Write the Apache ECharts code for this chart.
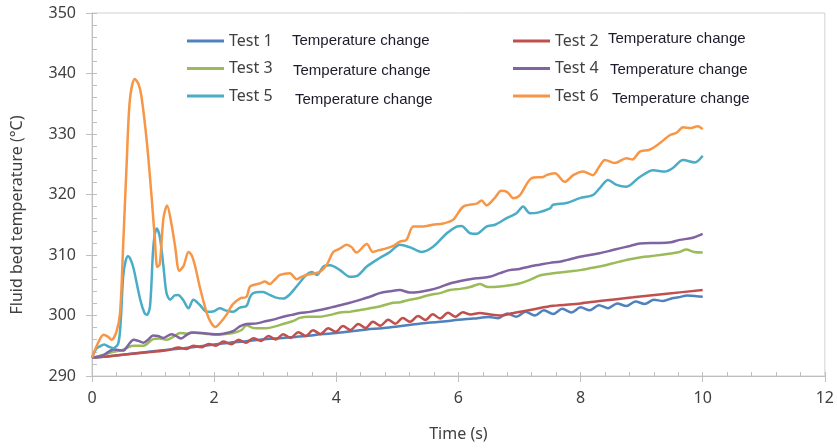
<!DOCTYPE html>
<html><head><meta charset="utf-8">
<script src="https://cdn.jsdelivr.net/npm/echarts@6/dist/echarts.min.js"></script>
<style>html,body{margin:0;padding:0;background:#fff}#c{width:837px;height:448px}</style>
</head><body><div id="c"></div>
<script>
const seriesNames = ['Test 1','Test 2','Test 3','Test 4','Test 5','Test 6'];
const seriesColors = ['#4F81BD','#C0504D','#9BBB59','#8064A2','#4BACC6','#F79646'];
const noteText = 'Temperature change';
const xTicks = [0,2,4,6,8,10,12];
const yTicks = [290,300,310,320,330,340,350];
const xTitle = 'Time (s)';
const yTitle = 'Fluid bed temperature (°C)';

const test1 = [[0,293.0],[0.5,293.5],[1,294.1],[1.5,294.6],[2,295.2],[2.25,295.5],[2.5,295.7],[2.75,296.0],[3,296.2],[3.25,296.4],[3.5,296.6],[3.75,296.9],[4,297.1],[4.25,297.4],[4.5,297.7],[4.75,297.9],[5,298.2],[5.25,298.5],[5.5,298.8],[5.75,299.0],[6,299.3],[6.25,299.5],[6.5,299.75],
[6.65,299.55],[6.8,300.35],[6.95,299.8],[7.1,300.6],[7.25,300.0],[7.4,300.85],[7.55,300.25],[7.7,301.1],[7.85,300.5],[8.0,301.35],[8.15,300.85],[8.3,301.7],[8.45,301.2],[8.6,302.0],[8.75,301.55],[8.9,302.3],[9.05,301.9],[9.2,302.6],[9.35,302.4],[9.5,302.85],[9.6,303.0],[9.75,303.3],[9.9,303.2],[10,303.1]];

const test2 = [[0,293.0],[0.5,293.5],[1.0,294.0],[1.25,294.3],
[1.42,294.7],[1.54,294.45],[1.66,295.0],[1.79,294.75],[1.91,295.3],[2.03,295.0],[2.15,295.7],[2.28,295.25],[2.40,296.0],[2.52,295.5],[2.64,296.25],[2.77,295.8],[2.89,296.6],[3.01,296.05],[3.13,296.9],[3.25,296.3],[3.38,297.25],[3.50,296.6],[3.62,297.55],[3.74,296.95],[3.87,297.9],[3.99,297.3],[4.11,298.25],[4.23,297.6],[4.36,298.6],[4.48,297.95],[4.60,298.95],[4.72,298.3],[4.85,299.3],[4.97,298.65],[5.09,299.6],[5.21,298.95],[5.34,299.9],[5.46,299.25],[5.58,300.2],[5.70,299.5],[5.83,300.45],[5.95,299.8],[6.07,300.55],[6.2,300.15],
[6.35,300.4],[6.5,300.2],[6.68,300.0],[6.9,300.4],[7.22,301.0],[7.55,301.6],[8.0,302.0],[8.31,302.4],[8.86,303.0],[9.41,303.6],[10,304.2]];

const test3 = [[0,293.0],[0.2,293.5],[0.35,294.0],[0.5,294.3],[0.6,294.8],[0.68,295.0],[0.84,295.0],[1.0,296.1],[1.1,296.2],[1.22,296.0],[1.35,296.6],[1.44,297.1],[1.55,297.0],[1.66,297.2],[1.85,297.0],[2.01,296.8],[2.15,296.9],[2.31,297.1],[2.45,297.6],[2.53,298.4],[2.62,298.0],[2.7,297.9],[2.86,297.9],[3.0,298.2],[3.13,298.6],[3.3,299.1],[3.4,299.6],[3.55,299.8],[3.73,299.8],[3.9,300.1],[4.06,300.5],[4.22,300.6],[4.39,300.9],[4.55,301.2],[4.71,301.5],[4.93,302.1],[5.05,302.2],[5.2,302.6],[5.35,302.9],[5.53,303.4],[5.7,303.7],[5.86,304.2],[6.03,304.4],[6.19,304.7],[6.35,305.2],[6.45,304.8],[6.51,304.7],[6.68,304.8],[6.84,305.0],[7.0,305.3],[7.17,305.9],[7.33,306.6],[7.5,306.9],[7.66,307.1],[7.83,307.3],[7.99,307.5],[8.15,307.8],[8.31,308.1],[8.48,308.5],[8.64,308.9],[8.81,309.3],[8.97,309.6],[9.14,309.8],[9.3,310.0],[9.51,310.3],[9.62,310.5],[9.73,310.9],[9.86,310.5],[10,310.4]];

const test4 = [[0,293.0],[0.18,293.4],[0.27,294.0],[0.35,294.4],[0.43,294.3],[0.51,294.2],[0.6,295.2],[0.68,296.0],[0.76,295.8],[0.84,295.5],[0.92,296.0],[1.0,296.7],[1.08,296.6],[1.17,296.3],[1.3,296.9],[1.38,296.6],[1.46,296.2],[1.55,296.8],[1.63,297.2],[1.8,297.1],[2.01,296.9],[2.15,297.0],[2.31,297.4],[2.42,298.2],[2.53,298.6],[2.7,298.7],[2.86,299.1],[3.0,299.4],[3.13,299.8],[3.27,300.1],[3.4,300.4],[3.57,300.6],[3.73,300.9],[3.9,301.3],[4.06,301.7],[4.22,302.1],[4.39,302.6],[4.55,303.1],[4.71,303.7],[4.88,304.0],[5.04,304.2],[5.2,303.8],[5.36,303.9],[5.53,304.2],[5.7,304.7],[5.86,305.3],[6.03,305.7],[6.19,306.0],[6.35,306.2],[6.51,306.4],[6.68,307.0],[6.84,307.5],[7.0,307.7],[7.17,308.1],[7.33,308.4],[7.5,308.7],[7.66,308.9],[7.83,309.3],[7.99,309.7],[8.15,310.0],[8.31,310.3],[8.48,310.7],[8.64,311.1],[8.81,311.5],[8.97,311.9],[9.15,312.0],[9.3,312.0],[9.48,312.1],[9.62,312.5],[9.82,312.8],[10,313.5]];

const test5 = [[0,293.0],[0.07,294.5],[0.13,294.9],[0.2,295.2],[0.28,294.8],[0.35,294.6],[0.43,295.4],[0.47,299.0],[0.51,306.4],[0.55,309.0],[0.59,309.8],[0.63,309.3],[0.68,307.8],[0.79,302.6],[0.86,300.4],[0.9,300.1],[0.95,301.5],[1.0,310.8],[1.03,313.5],[1.06,314.4],[1.11,313.0],[1.17,308.1],[1.22,303.7],[1.28,302.6],[1.35,303.3],[1.41,303.4],[1.49,302.6],[1.58,301.2],[1.66,302.6],[1.77,301.7],[1.88,300.6],[2.0,300.7],[2.09,301.2],[2.2,300.8],[2.31,300.6],[2.42,301.3],[2.53,301.6],[2.59,303.1],[2.64,303.7],[2.75,303.9],[2.8,303.9],[2.91,303.4],[3.0,303.0],[3.13,302.8],[3.22,303.3],[3.35,304.8],[3.51,306.7],[3.6,307.2],[3.68,306.7],[3.79,308.1],[3.9,308.3],[4.06,307.5],[4.22,306.4],[4.35,306.6],[4.5,308.1],[4.71,309.5],[4.88,310.5],[5.04,311.7],[5.2,311.3],[5.4,310.5],[5.59,311.4],[5.81,313.6],[5.97,314.7],[6.05,314.8],[6.19,313.6],[6.3,313.5],[6.46,314.7],[6.6,315.0],[6.79,316.1],[6.95,316.9],[7.06,318.0],[7.17,316.9],[7.3,317.0],[7.5,317.7],[7.55,318.3],[7.77,318.6],[7.99,319.4],[8.2,319.9],[8.31,321.0],[8.45,322.4],[8.59,321.6],[8.75,321.3],[8.97,322.9],[9.19,324.0],[9.38,323.8],[9.5,324.3],[9.68,325.7],[9.87,325.3],[10,326.4]];

const test6 = [[0,293.0],[0.1,295.5],[0.19,296.8],[0.26,296.5],[0.32,296.0],[0.4,297.3],[0.46,300.5],[0.51,311.5],[0.57,325.7],[0.62,335.6],[0.7,339.1],[0.76,338.3],[0.81,336.2],[0.9,328.5],[0.98,319.1],[1.03,312.5],[1.07,308.0],[1.11,308.5],[1.17,316.1],[1.23,318.2],[1.3,315.2],[1.36,311.5],[1.43,307.4],[1.5,308.2],[1.58,310.5],[1.63,310.0],[1.69,308.1],[1.77,304.5],[1.88,300.4],[1.95,298.8],[2.02,298.1],[2.1,298.8],[2.2,300.1],[2.3,301.8],[2.42,302.8],[2.53,303.1],[2.59,304.8],[2.75,305.3],[2.83,305.6],[2.91,305.2],[3.0,306.0],[3.08,306.7],[3.24,307.0],[3.35,306.0],[3.43,306.4],[3.51,306.7],[3.73,307.2],[3.85,308.5],[3.95,310.5],[4.05,311.0],[4.17,311.7],[4.25,311.3],[4.33,310.4],[4.5,311.8],[4.6,310.5],[4.7,310.8],[4.82,311.1],[4.95,311.6],[5.04,312.2],[5.15,312.5],[5.26,314.7],[5.42,314.7],[5.58,315.0],[5.75,315.2],[5.91,315.8],[6.08,318.0],[6.3,318.5],[6.38,319.0],[6.46,318.2],[6.6,319.5],[6.7,320.6],[6.8,320.4],[6.9,319.4],[7.0,319.8],[7.2,322.7],[7.39,322.9],[7.44,323.2],[7.58,323.5],[7.74,322.1],[7.88,323.2],[8.04,323.8],[8.2,323.2],[8.3,324.5],[8.4,325.7],[8.56,325.2],[8.75,326.0],[8.85,325.8],[8.97,327.1],[9.13,327.4],[9.3,328.5],[9.46,329.8],[9.57,330.2],[9.68,331.1],[9.81,331.0],[9.92,331.3],[10,330.8]];

const allData = [test1,test2,test3,test4,test5,test6];

const FONT = '"Noto Sans", sans-serif';
const axisColor = '#BFBFBF';
const labelColor = '#404040';
const xMin = xTicks[0], xMax = xTicks[xTicks.length-1], xInt = xTicks[1]-xTicks[0];
const yMin = yTicks[0], yMax = yTicks[yTicks.length-1], yInt = yTicks[1]-yTicks[0];

const chart = echarts.init(document.getElementById('c'), null, {renderer:'canvas'});
const option = {
  animation: false,
  backgroundColor: '#ffffff',
  grid: {left: 92, right: 12, top: 13, bottom: 72, show: true, borderColor: '#D0D0D0', borderWidth: 1, backgroundColor: 'transparent'},
  xAxis: [
    {type:'value', min:xMin, max:xMax, interval:xInt,
     axisLine:{show:true, lineStyle:{color:axisColor, width:1}},
     axisTick:{show:true, inside:false, length:6, lineStyle:{color:axisColor}},
     axisLabel:{color:labelColor, fontFamily:FONT, fontSize:16, margin:14},
     splitLine:{show:false},
     name:xTitle, nameLocation:'middle', nameGap:50,
     nameTextStyle:{color:labelColor, fontFamily:FONT, fontSize:16}},
    {type:'value', min:xMin, max:xMax, interval:0.4, position:'bottom',
     axisLine:{show:false}, axisLabel:{show:false}, splitLine:{show:false},
     axisTick:{show:true, inside:true, length:4, lineStyle:{color:axisColor}}}
  ],
  yAxis: [
    {type:'value', min:yMin, max:yMax, interval:yInt,
     axisLine:{show:true, lineStyle:{color:axisColor, width:1}},
     axisTick:{show:true, inside:false, length:6, lineStyle:{color:axisColor}},
     axisLabel:{color:labelColor, fontFamily:FONT, fontSize:16, margin:16},
     splitLine:{show:false}},
    {type:'value', min:yMin, max:yMax, interval:2, position:'left',
     axisLine:{show:false}, axisLabel:{show:false}, splitLine:{show:false},
     axisTick:{show:true, inside:true, length:5, lineStyle:{color:axisColor}}}
  ],
  legend: [
    {data:[seriesNames[0],seriesNames[2],seriesNames[4]], orient:'vertical', left:187, top:33, padding:0,
     itemWidth:37, itemHeight:3, itemGap:11.5, icon:'rect',
     textStyle:{color:labelColor, fontFamily:FONT, fontSize:16}},
    {data:[seriesNames[1],seriesNames[3],seriesNames[5]], orient:'vertical', left:513, top:33, padding:0,
     itemWidth:37, itemHeight:3, itemGap:11.5, icon:'rect',
     textStyle:{color:labelColor, fontFamily:FONT, fontSize:16}}
  ],
  graphic: [
    {type:'text', x:292, y:40.5, style:{text:noteText, font:'15px "Liberation Sans", Arial, sans-serif', fill:'#1b1b2a', verticalAlign:'middle'}},
    {type:'text', x:293, y:70.5, style:{text:noteText, font:'15px "Liberation Sans", Arial, sans-serif', fill:'#1b1b2a', verticalAlign:'middle'}},
    {type:'text', x:295, y:99.5, style:{text:noteText, font:'15px "Liberation Sans", Arial, sans-serif', fill:'#1b1b2a', verticalAlign:'middle'}},
    {type:'text', x:608, y:38.5, style:{text:noteText, font:'15px "Liberation Sans", Arial, sans-serif', fill:'#1b1b2a', verticalAlign:'middle'}},
    {type:'text', x:610, y:69.5, style:{text:noteText, font:'15px "Liberation Sans", Arial, sans-serif', fill:'#1b1b2a', verticalAlign:'middle'}},
    {type:'text', x:612, y:98.5, style:{text:noteText, font:'15px "Liberation Sans", Arial, sans-serif', fill:'#1b1b2a', verticalAlign:'middle'}},
    {type:'text', x:17, y:215, rotation:Math.PI/2, style:{text:yTitle, font:'16px "Noto Sans", sans-serif', fill:labelColor, align:'center', verticalAlign:'middle'}}
  ],
  series: seriesNames.map((n,i)=>({
    name:n, type:'line', xAxisIndex:0, yAxisIndex:0, data:allData[i],
    showSymbol:false, smooth:0.3, color:seriesColors[i],
    lineStyle:{width:2.5, color:seriesColors[i]}
  }))
};
chart.setOption(option);
</script>
</body></html>
